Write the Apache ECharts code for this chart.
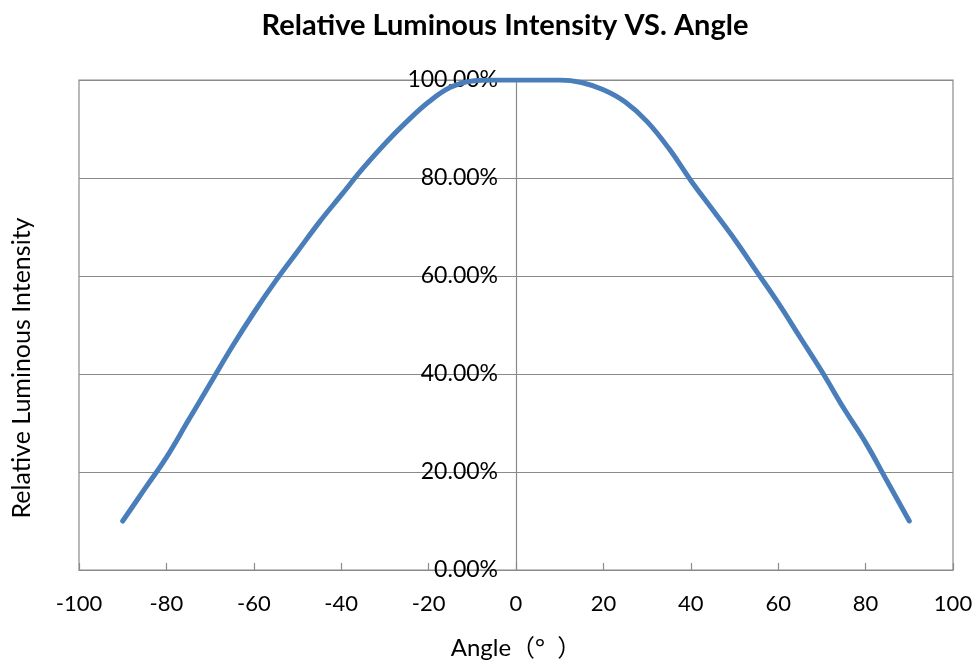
<!DOCTYPE html>
<html>
<head>
<meta charset="utf-8">
<script src="https://cdn.jsdelivr.net/npm/echarts@6/dist/echarts.min.js"></script>
<style>
html,body{margin:0;padding:0;background:#fff;}
#chart{width:978px;height:663px;}
</style>
</head>
<body>
<div id="chart"></div>
<script>
const angles = [-90,-85,-80,-75,-70,-65,-60,-55,-50,-45,-40,-35,-30,-25,-20,-15,-10,-5,0,5,10,15,20,25,30,35,40,45,50,55,60,65,70,75,80,85,90];
const intensity = [10,16.5,23,30.5,38,45.5,52.5,59,65,71,76.5,82,87,91.5,95.5,98.5,99.8,100,100,100,100,99.5,98,95.5,91.5,86,79.5,73.5,67.5,61,54.5,47.5,40.5,33,26,18,10];
const xTicks = [-100,-80,-60,-40,-20,0,20,40,60,80,100];
const yTicks = [0,20,40,60,80,100];

const FONT = 'Lato, "Noto Sans CJK SC", sans-serif';
const GRID_LEFT = 79, GRID_RIGHT = 25;
const plotW = 978 - GRID_LEFT - GRID_RIGHT;
const zeroOffset = plotW / 2; // y axis sits at angle 0 (middle of -100..100)

const chart = echarts.init(document.getElementById('chart'), null, {renderer:'canvas'});
chart.setOption({
  animation:false,
  backgroundColor:'#ffffff',
  title:{
    text:'Relative Luminous Intensity VS. Angle',
    left:500, top:6, textAlign:'center',
    textStyle:{fontFamily:FONT,fontWeight:'bold',fontSize:29,color:'#000'}
  },
  graphic:[{
    type:'text',
    x:22, y:368, rotation:Math.PI/2,
    style:{text:'Relative Luminous Intensity',fontFamily:FONT,fontSize:25,fill:'#000',
      align:'center',verticalAlign:'middle'}
  }],
  grid:{left:GRID_LEFT,right:GRID_RIGHT,top:80,bottom:93,show:true,borderColor:'#8a8a8a',borderWidth:1.2,containLabel:false,outerBoundsMode:'none'},
  xAxis:{
    type:'value',min:-100,max:100,interval:20,
    name:'Angle（°  ）',nameLocation:'middle',nameGap:66,
    nameTextStyle:{fontFamily:FONT,fontSize:24,color:'#000'},
    axisLine:{show:true,lineStyle:{color:'#8a8a8a',width:1.2}},
    axisTick:{show:true,inside:true,length:7,lineStyle:{color:'#8a8a8a',width:1.2}},
    axisLabel:{fontFamily:FONT,fontSize:22,color:'#000',margin:23,
      formatter:v=>xTicks.includes(v)?String(v):''},
    splitLine:{show:false}
  },
  yAxis:{
    type:'value',min:0,max:100,interval:20,position:'left',offset:-zeroOffset,
    axisLine:{show:true,onZero:false,lineStyle:{color:'#8a8a8a',width:1.2}},
    axisTick:{show:false},
    axisLabel:{fontFamily:FONT,fontSize:23,color:'#000',margin:18,
      formatter:v=>yTicks.includes(v)?v.toFixed(2)+'%':''},
    splitLine:{show:true,lineStyle:{color:'#8a8a8a',width:1.2}}
  },
  series:[{
    type:'line',
    data:angles.map((a,i)=>[a,intensity[i]]),
    smooth:0.4,
    showSymbol:false,
    lineStyle:{color:'#4a7ebb',width:5,cap:'round',join:'round'},
    z:1
  }]
});
</script>
</body>
</html>
